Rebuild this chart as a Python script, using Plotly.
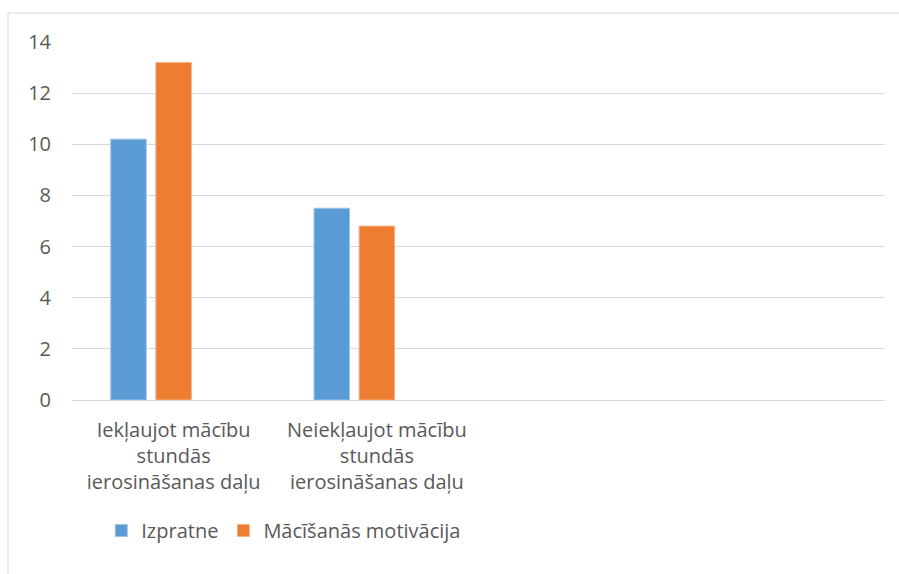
import plotly.graph_objects as go

categories = [
    "Iekļaujot mācību<br>stundās<br>ierosināšanas daļu",
    "Neiekļaujot mācību<br>stundās<br>ierosināšanas daļu",
]
izpratne = [10.2, 7.5]
motivacija = [13.2, 6.8]
# third (empty) series in the source workbook, keeps the group offsets
tuksa = [None, None]

TEXT = "#595959"
GRID = "#d9d9d9"

fig = go.Figure()
fig.add_trace(go.Bar(x=categories, y=izpratne, name="Izpratne",
                     marker={"color": "#5b9bd5", "line": {"color": "#9dc3e6", "width": 1}}))
fig.add_trace(go.Bar(x=categories, y=motivacija, name="Mācīšanās motivācija",
                     marker={"color": "#ed7d31", "line": {"color": "#f4b183", "width": 1}}))
fig.add_trace(go.Bar(x=categories, y=tuksa, name="", showlegend=False,
                     marker={"color": "#a5a5a5"}))

# light frame around the chart area
fig.add_shape(type="rect", xref="paper", yref="paper",
              x0=-0.0787, x1=1.05, y0=-0.6, y1=1.081,
              line={"color": GRID, "width": 1}, layer="below")

fig.update_layout(
    width=899,
    height=574,
    barmode="group",
    bargap=0.334,
    bargroupgap=0.213,
    margin={"l": 72, "r": 14, "t": 42, "b": 174},
    paper_bgcolor="white",
    plot_bgcolor="white",
    font={"family": "Open Sans", "size": 20, "color": TEXT},
    showlegend=True,
    legend={"orientation": "h", "x": 0.036, "xanchor": "left", "y": -0.31,
            "yanchor": "top", "font": {"size": 20, "color": TEXT},
            "itemwidth": 30, "traceorder": "normal"},
    xaxis={"type": "category", "range": [-0.5, 3.5], "showgrid": False,
           "showline": False, "ticks": "", "tickangle": 0,
           "ticklabelstandoff": 16,
           "tickfont": {"size": 20, "color": TEXT}},
    yaxis={"range": [0, 14], "dtick": 2, "gridcolor": GRID, "gridwidth": 1,
           "zeroline": True, "zerolinecolor": GRID, "zerolinewidth": 1,
           "showline": False, "ticks": "", "ticklabelstandoff": 20,
           "tickfont": {"size": 20, "color": TEXT}},
)

fig.write_html("out.html", config={"displayModeBar": False},
               post_script="document.body.style.margin='0';")
